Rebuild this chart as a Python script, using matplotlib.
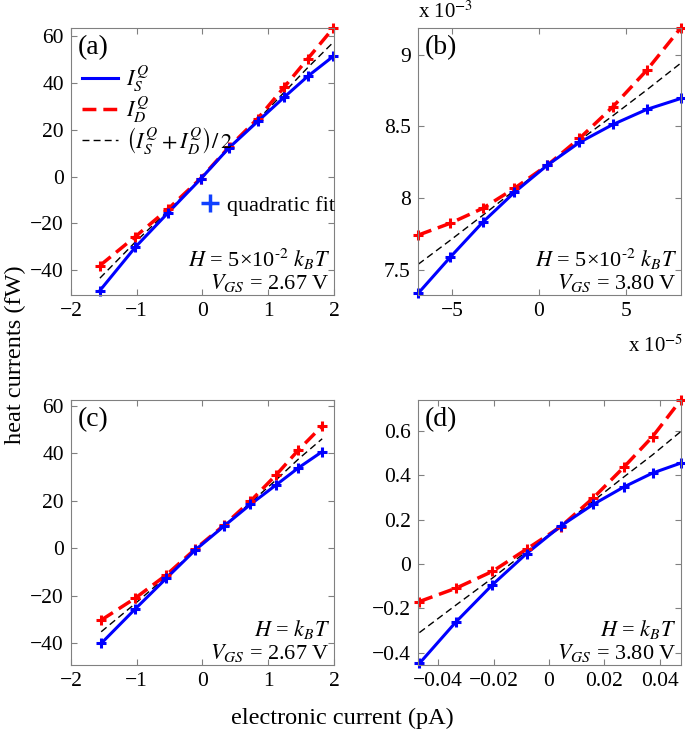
import matplotlib
matplotlib.use("Agg")
import matplotlib.pyplot as plt
from matplotlib.lines import Line2D
from matplotlib.ticker import FuncFormatter, MultipleLocator

plt.rcParams['font.family'] = ['Liberation Serif', 'DejaVu Serif']
plt.rcParams['mathtext.fontset'] = 'stix'

# panel (a): H = 5e-2 kBT, VGS = 2.67 V
xa = [-1.56, -1.02, -0.52, -0.03, 0.40, 0.84, 1.24, 1.60, 1.99]
sa = [-48.8, -30.2, -15.4, -1.1, 12.2, 23.6, 33.9, 42.9, 51.5]
da = [-38.1, -25.7, -13.8, -0.9, 12.5, 24.8, 38.2, 50.4, 63.6]
ma = [-43.5, -28.0, -14.6, -1.0, 12.3, 24.2, 36.0, 46.6, 57.5]

# panel (b): H = 5e-2 kBT, VGS = 3.80 V  (x in 1e-5 pA, y in 1e-3 fW)
xb = [-6.94, -5.11, -3.24, -1.42, 0.48, 2.32, 4.24, 6.19, 8.14]
sb = [7.338, 7.588, 7.832, 8.040, 8.230, 8.388, 8.513, 8.618, 8.694]
db = [7.743, 7.825, 7.929, 8.068, 8.230, 8.416, 8.636, 8.891, 9.185]
mb = [7.540, 7.706, 7.880, 8.054, 8.230, 8.402, 8.574, 8.754, 8.940]

# panel (c): H = kBT, VGS = 2.67 V
xc = [-1.54, -1.03, -0.55, -0.11, 0.33, 0.73, 1.12, 1.46, 1.82]
sc = [-40.0, -25.7, -12.6, -0.7, 9.4, 18.5, 26.7, 33.9, 40.7]
dc = [-30.2, -21.1, -11.2, -0.3, 9.8, 19.9, 30.9, 41.4, 51.5]
mc = [-35.1, -23.4, -11.9, -0.5, 9.6, 19.2, 28.8, 37.6, 46.1]

# panel (d): H = kBT, VGS = 3.80 V
xd = [-0.0468, -0.0336, -0.0204, -0.0081, 0.0042, 0.0160, 0.0270, 0.0374, 0.0476]
sd = [-0.448, -0.261, -0.093, 0.047, 0.171, 0.269, 0.347, 0.410, 0.455]
dd = [-0.169, -0.109, -0.033, 0.067, 0.168, 0.298, 0.436, 0.574, 0.739]
md = [-0.309, -0.185, -0.063, 0.057, 0.170, 0.284, 0.392, 0.492, 0.597]

panels = [
    ('(a)', xa, sa, da, ma, (-2, 2), (-50.7, 63.6), 1, 20,
     '$H$ = 5×10$^{\\text{-}2}$ $k_BT$', '$V_{GS}$ = 2.67 V'),
    ('(b)', xb, sb, db, mb, (-6.97, 8.14), (7.326, 9.185), 5, 0.5,
     '$H$ = 5×10$^{\\text{-}2}$ $k_BT$', '$V_{GS}$ = 3.80 V'),
    ('(c)', xc, sc, dc, mc, (-2, 2), (-49.1, 62.4), 1, 20,
     '$H$ = $k_BT$', '$V_{GS}$ = 2.67 V'),
    ('(d)', xd, sd, dd, md, (-0.0474, 0.0476), (-0.455, 0.739), 0.02, 0.2,
     '$H$ = $k_BT$', '$V_{GS}$ = 3.80 V'),
]

rects = [
    [0.1036, 0.6003, 0.384, 0.3618],
    [0.6098, 0.6003, 0.384, 0.3618],
    [0.1036, 0.0989, 0.384, 0.359],
    [0.6098, 0.0989, 0.384, 0.359],
]


def fmt(v, pos):
    v = round(v, 6)
    if v == 0:
        return '0'
    return f'{v:g}'.replace('-', '\u2212')


fig = plt.figure(figsize=(6.85, 7.38), dpi=100)

for rect, p in zip(rects, panels):
    tag, x, s, d, m, xl, yl, xs, ys, t1, t2 = p
    ax = fig.add_axes(rect)
    ax.plot(x, m, color='k', lw=1, dashes=(5, 3))
    ax.plot(x, d, color='r', lw=2.5, dashes=(4, 2))
    ax.plot(x, s, color='b', lw=2.2)
    ax.plot(x, d, ls='none', marker='+', color='r', ms=7, mew=2.2, clip_on=False)
    ax.plot(x, s, ls='none', marker='+', color='b', ms=7, mew=2.2, clip_on=False)
    ax.set_xlim(xl)
    ax.set_ylim(yl)
    ax.xaxis.set_major_locator(MultipleLocator(xs))
    ax.yaxis.set_major_locator(MultipleLocator(ys))
    ax.xaxis.set_major_formatter(FuncFormatter(fmt))
    ax.yaxis.set_major_formatter(FuncFormatter(fmt))
    ax.tick_params(direction='in', top=True, right=True, labelsize=15.5,
                   length=4, color='#808080', pad=5)
    for sp in ax.spines.values():
        sp.set_color('#808080')
    ax.text(0.025, 0.975, tag, transform=ax.transAxes, fontsize=20,
            va='top', ha='left')
    ax.text(0.985, 0.135, t1, transform=ax.transAxes, fontsize=16,
            ha='right', va='center')
    ax.text(0.985, 0.045, t2, transform=ax.transAxes, fontsize=16,
            ha='right', va='center')
    if tag == '(a)':
        h = [Line2D([], [], color='b', lw=2.2),
             Line2D([], [], color='r', lw=2.5, dashes=(4, 2)),
             Line2D([], [], color='k', lw=1, dashes=(5, 3))]
        lab = ['$I_S^Q$', '$I_D^Q$', r'$\left(I_S^Q+I_D^Q\right)/\,2$']
        leg = ax.legend(h, lab, loc='upper left', bbox_to_anchor=(0.01, 0.90),
                        frameon=False, fontsize=16, handlelength=1.6,
                        handletextpad=0.35, labelspacing=0.0, borderaxespad=0)
        ax.add_artist(leg)
        h2 = [Line2D([], [], ls='none', marker='+', color='#1040ff', ms=13, mew=2.5)]
        ax.legend(h2, ['quadratic fit'], loc='center left',
                  bbox_to_anchor=(0.455, 0.335), frameon=False, fontsize=16,
                  handlelength=0.9, handletextpad=0.35, borderaxespad=0)
    if tag == '(b)':
        ax.text(0.0, 1.02, 'x 10$^{-3}$', transform=ax.transAxes,
                fontsize=15, ha='left', va='bottom')
        ax.text(1.01, -0.15, 'x 10$^{-5}$', transform=ax.transAxes,
                fontsize=15, ha='right', va='top')

fig.text(0.022, 0.52, 'heat currents (fW)', rotation=90, fontsize=17.5,
         ha='center', va='center')
fig.text(0.5, 0.027, 'electronic current (pA)', fontsize=17.5,
         ha='center', va='center')

fig.savefig('out.png', dpi=100)
